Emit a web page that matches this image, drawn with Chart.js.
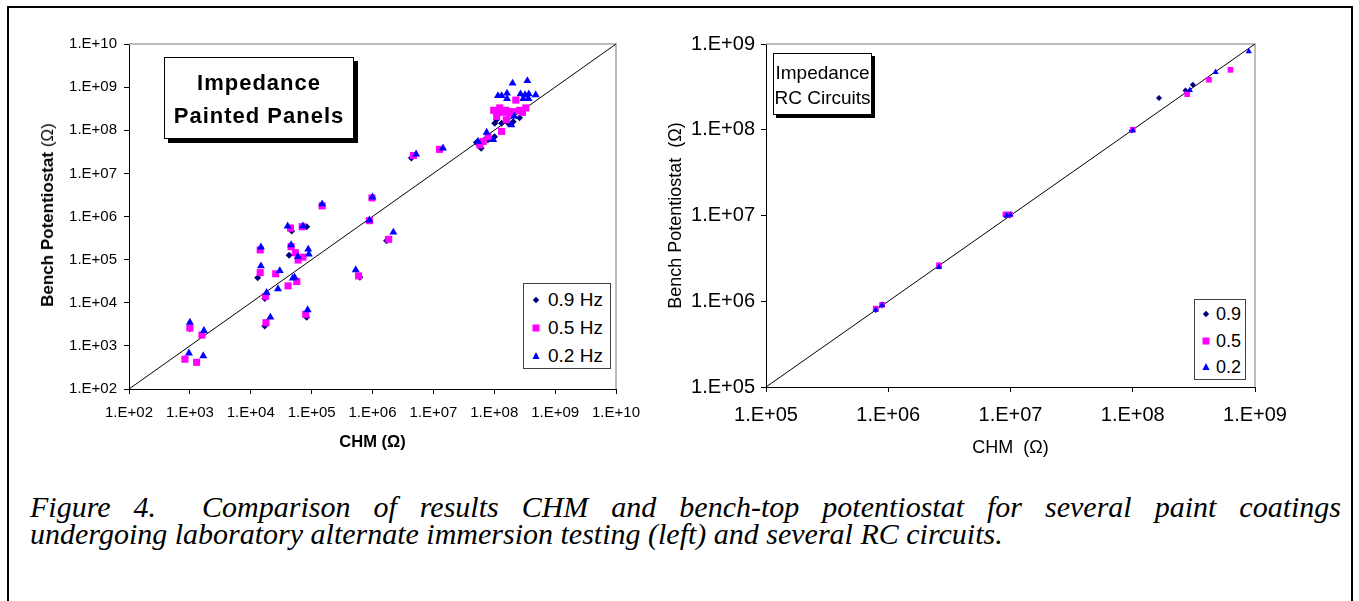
<!DOCTYPE html>
<html>
<head>
<meta charset="utf-8">
<script src="https://cdn.jsdelivr.net/npm/chart.js@4/dist/chart.umd.min.js"></script>
<style>
  body { margin: 0; background: #fff; width: 1359px; height: 601px; overflow: hidden; position: relative; font-family: Arial, "Liberation Sans", sans-serif; }
  #frame { position: absolute; left: 7px; top: 6px; width: 1346px; height: 640px; border: 2px solid #000; box-sizing: border-box; }
  .holder { position: absolute; top: 0; }
  .note { position: absolute; background: #fff; border: 1px solid #000; text-align: center; color: #000; }
  .legend { position: absolute; background: #fff; border: 1px solid #404040; }
  .row { position: absolute; left: 0; white-space: nowrap; color: #000; }
  .row svg { position: absolute; }
  .row span { position: absolute; transform: translateY(-50%); }
  #ytitleL { position: absolute; left: 48px; top: 215px; transform: translate(-50%, -50%) rotate(-90deg); white-space: nowrap; font-size: 17px; }
  .cap { position: absolute; left: 30px; width: 1311px; font-family: "Liberation Serif", "Times New Roman", serif; font-style: italic; font-size: 30px; line-height: 27px; color: #000; white-space: nowrap; }
  #cap1 { top: 493px; text-align: justify; text-align-last: justify; white-space: normal; }
  #cap2 { top: 520px; text-align: left; }
</style>
</head>
<body>
<div id="frame"></div>

<div class="holder" style="left:0"><canvas id="leftChart" width="650" height="470"></canvas></div>
<div class="holder" style="left:650px"><canvas id="rightChart" width="700" height="470"></canvas></div>

<div id="ytitleL"><b>Bench Potentiostat</b> (Ω)</div>

<div class="note" style="left:164px;top:57px;width:190px;height:82px;box-shadow:4px 4px 0 #000;font-weight:bold;font-size:22px;letter-spacing:1px;line-height:33px;box-sizing:border-box;padding-top:8px;">Impedance<br>Painted Panels</div>
<div class="note" style="left:773px;top:53px;width:99px;height:62px;box-shadow:3px 3px 0 #000;font-size:19px;line-height:25px;box-sizing:border-box;padding-top:6px;">Impedance<br>RC Circuits</div>

<div class="legend" id="legendL" style="left:523px;top:283px;width:88px;height:86px;box-sizing:border-box;"></div>
<div class="legend" id="legendR" style="left:1194px;top:299px;width:52px;height:81px;box-sizing:border-box;"></div>

<div class="cap" id="cap1">Figure 4.&nbsp; Comparison of results CHM and bench-top potentiostat for several paint coatings</div>
<div class="cap" id="cap2">undergoing laboratory alternate immersion testing (left) and several RC circuits.</div>

<script>
// ---- left panel: painted panels (CHM vs bench, ohm) ----
const leftChm09   = [830, 1000, 1.3e4, 1.7e4, 1.7e4, 4.27e4, 4.7e4, 8.3e4, 8.3e4, 6.2e5, 8.9e5, 1.7e6, 4.36e6,
                     5.1e7, 5.8e7, 6.1e7, 7.9e7, 1.01e8, 1.02e8, 1.09e8, 1.32e8, 1.7e8, 2.04e8, 2.6e8];
const leftBench09 = [500, 2500, 3.8e4, 1.26e4, 2.9e3, 1.26e5, 4.6e5, 5.8e5, 4.6e3, 3.9e4, 8.0e5, 2.75e5, 2.28e7,
                     5.2e7, 4.2e7, 3.85e7, 6.0e7, 7.1e7, 1.46e8, 1.75e8, 1.46e8, 1.46e8, 1.58e8, 1.95e8];

const leftChm05   = [830, 1000, 1290, 1580, 1.43e4, 1.43e4, 2.57e4, 1.76e4, 1.78e4, 4.5e4, 4.6e4, 5.4e4, 6.0e4,
                     7.2e4, 7.0e4, 5.7e4, 4.1e4, 8.0e4, 1.49e5, 5.9e5, 8.9e5, 1.84e6, 9.8e5, 4.7e6, 1.26e7,
                     5.8e7, 6.6e7, 7.9e7, 1.1e8, 9.8e7, 1.23e8, 1.58e8, 1.55e8, 2.0e8, 2.6e8, 3.3e8, 2.26e8,
                     1.32e8, 1.8e8, 1.1e8, 1.4e8, 2.9e8];
const leftBench05 = [490, 2600, 415, 1780, 1.68e5, 5.0e4, 4.7e4, 1.41e4, 3.45e3, 5.4e5, 2.0e5, 1.45e5, 9.8e4,
                     1.14e5, 5.8e5, 3.1e4, 2.46e4, 5.4e3, 1.76e6, 4.2e4, 8.0e5, 2.96e5, 2.7e6, 2.6e7, 3.6e7,
                     4.6e7, 5.5e7, 7.1e7, 2.1e8, 2.9e8, 3.3e8, 1.75e8, 2.9e8, 2.7e8, 2.9e8, 3.3e8, 5.0e8,
                     9.4e7, 2.4e8, 2.7e8, 2.6e8, 2.6e8];

const leftChm02   = [965, 1000, 1660, 1700, 1.47e4, 1.47e4, 3.0e4, 1.82e4, 2.8e4, 2.1e4, 4.04e4, 4.6e4, 5.96e4,
                     8.8e4, 9.0e4, 7.2e4, 4.9e4, 5.25e4, 8.6e4, 1.49e5, 5.3e5, 8.9e5, 2.2e6, 1.0e6, 5.2e6, 1.44e7,
                     5.4e7, 7.5e7, 9.6e7, 1.15e8, 1.32e8, 1.62e8, 1.62e8, 2.0e8, 2.13e8, 1.9e8, 2.7e8, 3.0e8,
                     3.2e8, 3.5e8, 3.66e8, 3.7e8, 4.8e8];
const leftBench02 = [680, 3500, 585, 2250, 1.95e5, 7.1e4, 5.5e4, 1.71e4, 2.1e4, 4.6e3, 5.96e5, 2.2e5, 1.17e5,
                     1.74e5, 1.33e5, 6.0e5, 3.7e4, 3.9e4, 6.8e3, 1.95e6, 5.8e4, 8.2e5, 4.3e5, 2.8e6, 2.8e7, 3.85e7,
                     5.5e7, 8.9e7, 6.0e7, 6.3e8, 6.3e8, 7.2e8, 5.4e8, 1.23e9, 2.1e8, 1.33e8, 6.9e8, 5.4e8,
                     6.6e8, 1.4e9, 5.4e8, 6.9e8, 6.6e8];

const leftTicks = [1e2, 1e3, 1e4, 1e5, 1e6, 1e7, 1e8, 1e9, 1e10];
const leftTickLabels = ['1.E+02', '1.E+03', '1.E+04', '1.E+05', '1.E+06', '1.E+07', '1.E+08', '1.E+09', '1.E+10'];
const leftDiag = [1e2, 1e10];

// ---- right panel: RC circuits ----
const rightChm09   = [7.9e5, 8.9e5, 2.6e6, 9.1e6, 9.9e6, 9.8e7, 1.64e8, 2.7e8, 3.1e8];
const rightBench09 = [7.9e5, 8.9e5, 2.55e6, 1.0e7, 1.0e7, 9.8e7, 2.34e8, 2.87e8, 3.35e8];
const rightChm05   = [7.9e5, 8.9e5, 2.6e6, 9.1e6, 9.9e6, 1.0e8, 2.79e8, 4.2e8, 6.3e8];
const rightBench05 = [8.2e5, 9.1e5, 2.63e6, 1.03e7, 1.03e7, 1.0e8, 2.6e8, 3.83e8, 5.0e8];
const rightChm02   = [7.9e5, 8.9e5, 2.6e6, 9.3e6, 1.0e7, 1.0e8, 2.93e8, 4.76e8, 8.9e8];
const rightBench02 = [7.9e5, 9.0e5, 2.5e6, 1.0e7, 1.02e7, 9.8e7, 2.9e8, 4.7e8, 8.2e8];

const rightTicks = [1e5, 1e6, 1e7, 1e8, 1e9];
const rightTickLabels = ['1.E+05', '1.E+06', '1.E+07', '1.E+08', '1.E+09'];
const rightDiag = [1e5, 1e9];

const freqLeft = ['0.9 Hz', '0.5 Hz', '0.2 Hz'];
const freqRight = ['0.9', '0.5', '0.2'];

const NAVY = '#000080', MAGENTA = '#ff00ff', BLUE = '#0000ff';

function pts(xs, ys) {
    return xs.map((x, i) => ({ x: x, y: ys[i] }));
}

// gray top/right edge of the plot area, like the Excel frame
const plotFrame = {
    id: 'plotFrame',
    beforeDatasetsDraw(chart) {
        const { ctx, chartArea: a } = chart;
        ctx.save();
        ctx.strokeStyle = '#a6a6a6';
        ctx.lineWidth = 1.5;
        ctx.beginPath();
        ctx.moveTo(a.left, a.top);
        ctx.lineTo(a.right, a.top);
        ctx.lineTo(a.right, a.bottom);
        ctx.stroke();
        ctx.restore();
    }
};

function logAxis(opts) {
    return {
        type: 'logarithmic',
        min: opts.ticks[0],
        max: opts.ticks[opts.ticks.length - 1],
        afterBuildTicks: (scale) => { scale.ticks = opts.ticks.map(v => ({ value: v })); },
        afterFit: (scale) => {
            if (opts.width) scale.width = opts.width;
            if (opts.height) scale.height = opts.height;
        },
        grid: { drawOnChartArea: false, drawTicks: true, tickLength: 5, color: '#000' },
        border: { display: true, color: '#000', width: 1 },
        ticks: {
            autoSkip: false,
            maxRotation: 0,
            padding: opts.pad,
            color: '#000',
            font: { family: 'Arial', size: opts.fontSize },
            callback: (v, i) => opts.labels[i]
        },
        title: opts.title ? {
            display: true,
            text: opts.title,
            color: '#000',
            padding: opts.titlePad,
            font: { family: 'Arial', size: opts.titleSize, weight: opts.titleWeight }
        } : { display: false }
    };
}

function buildChart(id, cfg) {
    const ctx = document.getElementById(id).getContext('2d');
    return new Chart(ctx, {
        type: 'scatter',
        data: {
            datasets: [
                { label: cfg.names[2], data: pts(cfg.x02, cfg.y02), pointStyle: 'triangle', pointRadius: cfg.r[2],
                  backgroundColor: BLUE, borderColor: BLUE, borderWidth: 0, order: 1 },
                { label: cfg.names[1], data: pts(cfg.x05, cfg.y05), pointStyle: 'rect', pointRadius: cfg.r[1],
                  backgroundColor: MAGENTA, borderColor: MAGENTA, borderWidth: 0, order: 2 },
                { label: cfg.names[0], data: pts(cfg.x09, cfg.y09), pointStyle: 'rectRot', pointRadius: cfg.r[0],
                  backgroundColor: NAVY, borderColor: NAVY, borderWidth: 0, order: 3 },
                { label: 'y = x', data: pts(cfg.diag, cfg.diag), showLine: true, pointRadius: 0,
                  borderColor: '#000', borderWidth: 1, order: 4 }
            ]
        },
        options: {
            responsive: false,
            animation: false,
            layout: { padding: cfg.padding },
            plugins: { legend: { display: false }, tooltip: { enabled: false } },
            scales: { x: cfg.xAxis, y: cfg.yAxis }
        },
        plugins: [plotFrame]
    });
}

buildChart('leftChart', {
    names: freqLeft,
    x09: leftChm09, y09: leftBench09,
    x05: leftChm05, y05: leftBench05,
    x02: leftChm02, y02: leftBench02,
    diag: leftDiag,
    r: [3.5, 5, 4.6],
    padding: { left: 0, top: 44, right: 34, bottom: 15 },
    xAxis: logAxis({ ticks: leftTicks, labels: leftTickLabels, fontSize: 15, pad: 10, height: 66,
                     title: 'CHM (Ω)', titleSize: 16.5, titleWeight: 'bold', titlePad: { top: 0, bottom: 3 } }),
    yAxis: logAxis({ ticks: leftTicks, labels: leftTickLabels, fontSize: 15, pad: 7, width: 129 })
});

buildChart('rightChart', {
    names: freqRight,
    x09: rightChm09, y09: rightBench09,
    x05: rightChm05, y05: rightBench05,
    x02: rightChm02, y02: rightBench02,
    diag: rightDiag,
    r: [3, 4, 3.6],
    padding: { left: 0, top: 44, right: 95, bottom: 11 },
    xAxis: logAxis({ ticks: rightTicks, labels: rightTickLabels, fontSize: 20, pad: 11, height: 72,
                     title: 'CHM  (Ω)', titleSize: 18, titleWeight: 'normal', titlePad: { top: 0, bottom: 0 } }),
    yAxis: logAxis({ ticks: rightTicks, labels: rightTickLabels, fontSize: 20, pad: 6, width: 116,
                     title: 'Bench Potentiostat  (Ω)', titleSize: 18, titleWeight: 'normal', titlePad: { top: 15, bottom: 0 } })
});

// legends: marker shapes match the dataset point styles
const markerSvg = {
    diamond: (c, s) => `<svg width="${2*s}" height="${2*s}" style="left:${-s}px;top:${-s}px"><polygon points="${s},${s-3.2} ${s+3.2},${s} ${s},${s+3.2} ${s-3.2},${s}" fill="${c}"/></svg>`,
    square: (c, s) => `<svg width="${2*s}" height="${2*s}" style="left:${-s}px;top:${-s}px"><rect x="${s-3.5}" y="${s-3.5}" width="7" height="7" fill="${c}"/></svg>`,
    triangle: (c, s) => `<svg width="${2*s}" height="${2*s}" style="left:${-s}px;top:${-s}px"><polygon points="${s},${s-4} ${s+3.6},${s+3} ${s-3.6},${s+3}" fill="${c}"/></svg>`
};

function fillLegend(el, names, rows, markX, textX, fontSize) {
    const kinds = [['diamond', NAVY], ['square', MAGENTA], ['triangle', BLUE]];
    names.forEach((name, i) => {
        const row = document.createElement('div');
        row.className = 'row';
        row.style.top = rows[i] + 'px';
        row.innerHTML = `<div style="position:absolute;left:${markX}px;top:0">${markerSvg[kinds[i][0]](kinds[i][1], 6)}</div>` +
                        `<span style="left:${textX}px;font-size:${fontSize}px">${name}</span>`;
        el.appendChild(row);
    });
}

fillLegend(document.getElementById('legendL'), freqLeft, [15.5, 43.5, 72], 12, 24, 19);
fillLegend(document.getElementById('legendR'), freqRight, [14, 40.5, 67], 11, 21, 18);
</script>
</body>
</html>
